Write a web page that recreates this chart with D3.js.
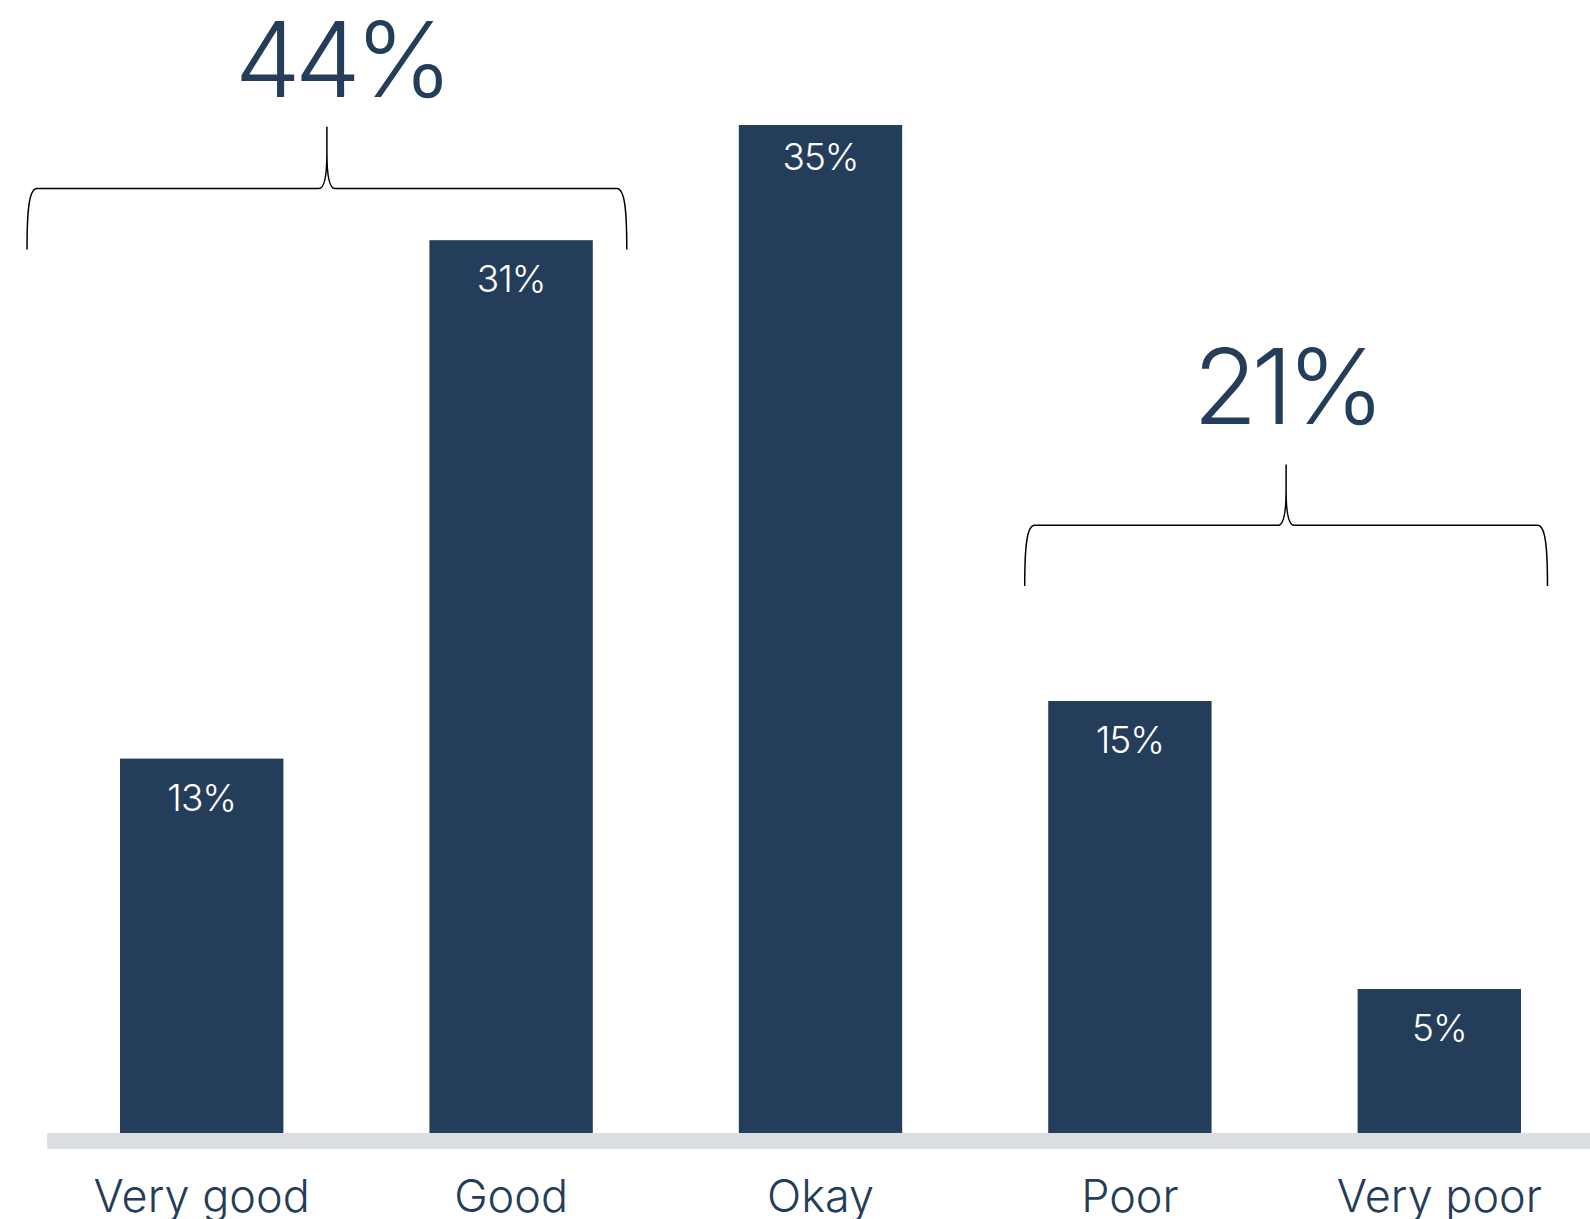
<!DOCTYPE html>
<html>
<head>
<meta charset="utf-8">
<script src="https://cdn.jsdelivr.net/npm/d3@7"></script>
<style>
  html, body { margin: 0; padding: 0; background: #ffffff; }
  svg { display: block; }
  text { font-family: "Inter", "Lato", "DejaVu Sans", sans-serif; }
</style>
</head>
<body>
<svg id="chart" width="1590" height="1219"></svg>
<script>
// Survey ratings, share of respondents (%)
const categories = ["Very good", "Good", "Okay", "Poor", "Very poor"];
const values = [13, 31, 35, 15, 5];
const valueLabels = ["13%", "31%", "35%", "15%", "5%"];

// Grouped totals shown above curly braces
const groupLabels = ["44%", "21%"];
const groupFrom = ["Very good", "Poor"];
const groupTo = ["Good", "Very poor"];

const W = 1590, H = 1219;
const navy = "#243d5a";
const baseY = 1133;

const svg = d3.select("#chart");

const x = d3.scaleBand()
  .domain(categories)
  .range([47, 1594])
  .paddingInner(0.472)
  .paddingOuter(0.236);

const y = d3.scaleLinear()
  .domain([0, 35])
  .range([baseY, baseY - 35 * 28.8]);

// Bars
svg.append("g").selectAll("rect")
  .data(categories)
  .join("rect")
  .attr("x", d => x(d))
  .attr("y", (d, i) => y(values[i]))
  .attr("width", x.bandwidth())
  .attr("height", (d, i) => y(0) - y(values[i]))
  .attr("fill", navy);

// Value labels inside the bars
svg.append("g").selectAll("text")
  .data(categories)
  .join("text")
  .attr("x", d => x(d) + x.bandwidth() / 2)
  .attr("y", (d, i) => y(values[i]) + (values[i] === 35 ? 45 : 52))
  .attr("text-anchor", "middle")
  .attr("fill", "#ffffff")
  .attr("font-size", 37)
  .attr("font-weight", 300)
  .attr("letter-spacing", -1)
  .text((d, i) => valueLabels[i]);

// Axis baseline band
svg.append("rect")
  .attr("x", 47)
  .attr("y", baseY)
  .attr("width", W - 47)
  .attr("height", 16)
  .attr("fill", "#dcdfe2");

// Category axis labels
const xAxis = d3.axisBottom(x).tickSize(0).tickPadding(0);
const axisG = svg.append("g")
  .attr("transform", `translate(0, ${baseY})`)
  .call(xAxis);
axisG.select(".domain").remove();
axisG.selectAll("text")
  .attr("y", 79)
  .attr("dy", 0)
  .attr("fill", navy)
  .attr("font-size", 45)
  .attr("font-weight", 300)
  .attr("font-family", "Inter, Lato, sans-serif");

// Curly brace layout: horizontal span offsets from the outer bar edges
// and vertical levels (bottom tip, horizontal run, top point)
const braceLayout = [
  { padL: 93, padR: 34, yb: 249.5, yh: 188.6, yt: 126.8, labelY: 96.5, labelDx: 14 },
  { padL: 23.5, padR: 26.5, yb: 586, yh: 525.3, yt: 464.4, labelY: 424, labelDx: 0 }
];

function bracePath(x0, x1, yb, yh, yt) {
  const m = (x0 + x1) / 2;
  const p = d3.path();
  p.moveTo(x0, yb);
  p.bezierCurveTo(x0, yh + 22, x0 + 2, yh, x0 + 10, yh);
  p.lineTo(m - 8, yh);
  p.bezierCurveTo(m - 2, yh, m, yh - 14, m, yh - 36);
  p.lineTo(m, yt);
  p.moveTo(m, yh - 36);
  p.bezierCurveTo(m, yh - 14, m + 2, yh, m + 8, yh);
  p.lineTo(x1 - 10, yh);
  p.bezierCurveTo(x1 - 2, yh, x1, yh + 22, x1, yb);
  return p.toString();
}

groupLabels.forEach((label, i) => {
  const L = braceLayout[i];
  const x0 = x(groupFrom[i]) - L.padL;
  const x1 = x(groupTo[i]) + x.bandwidth() + L.padR;
  const m = (x0 + x1) / 2;
  svg.append("path")
    .attr("d", bracePath(x0, x1, L.yb, L.yh, L.yt))
    .attr("fill", "none")
    .attr("stroke", "#000000")
    .attr("stroke-width", 1.5);
  svg.append("text")
    .attr("x", m + L.labelDx)
    .attr("y", L.labelY)
    .attr("text-anchor", "middle")
    .attr("fill", navy)
    .attr("font-size", 105)
    .attr("font-weight", 300)
    .attr("letter-spacing", -6)
    .text(label);
});
</script>
</body>
</html>
